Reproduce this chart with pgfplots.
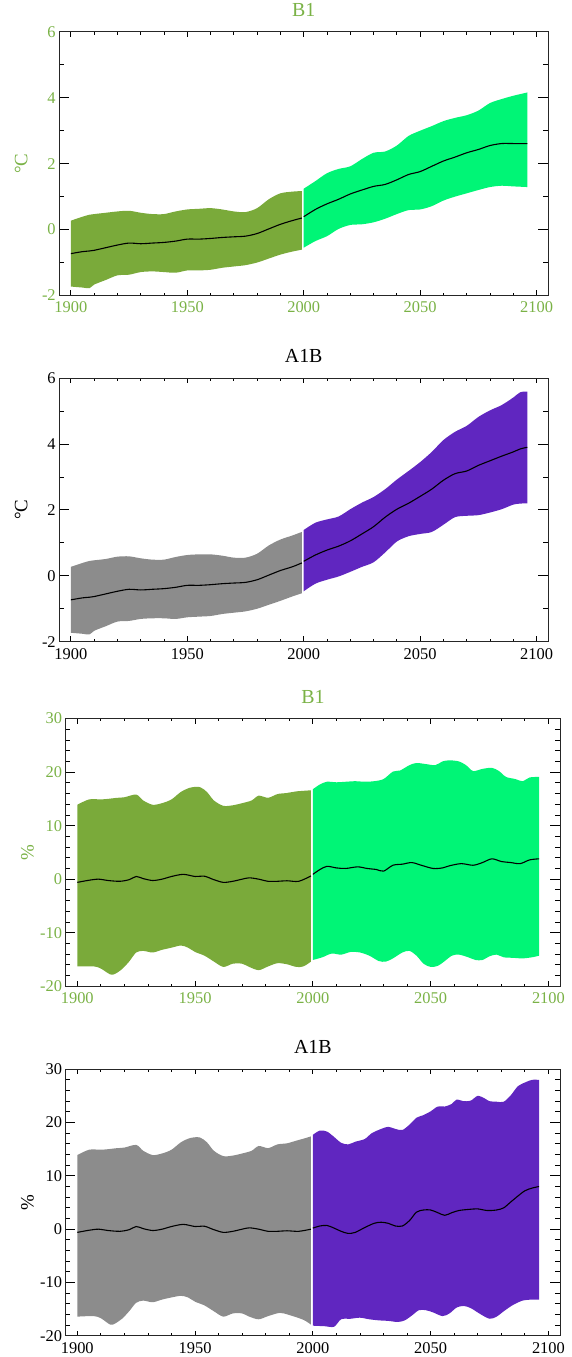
\documentclass[border=0pt]{standalone}
\usepackage{fontspec}
\setmainfont{Liberation Serif}
\usepackage{pgfplots}
\pgfplotsset{compat=1.18}
\usepackage{pgfplotstable}
\usepgfplotslibrary{fillbetween}

\definecolor{histgreen}{RGB}{122,170,58}
\definecolor{labgreen}{RGB}{122,178,70}
\definecolor{futgreen}{RGB}{0,245,118}
\definecolor{futpurple}{RGB}{96,38,192}
\definecolor{histgrey}{RGB}{140,140,140}

% ================= temperature (deg C) =================
% columns: year, lower bound, ensemble mean, upper bound
\pgfplotstableread{
year lo mid hi
1900 -1.73 -0.73 0.27
1905 -1.76 -0.67 0.39
1908 -1.78 -0.65 0.45
1910 -1.67 -0.63 0.47
1915 -1.53 -0.55 0.51
1920 -1.39 -0.47 0.55
1925 -1.37 -0.41 0.57
1930 -1.29 -0.43 0.51
1935 -1.27 -0.41 0.47
1940 -1.29 -0.39 0.47
1945 -1.31 -0.35 0.55
1950 -1.24 -0.29 0.61
1955 -1.24 -0.29 0.63
1960 -1.22 -0.27 0.65
1965 -1.16 -0.24 0.61
1970 -1.12 -0.22 0.55
1975 -1.08 -0.20 0.53
1980 -1.00 -0.12 0.65
1985 -0.88 0.02 0.92
1990 -0.76 0.16 1.10
1995 -0.67 0.27 1.15
1999.2 -0.61 0.35 1.17
}\tHistB

\pgfplotstableread{
year lo mid hi
1900 -1.73 -0.73 0.27
1905 -1.76 -0.67 0.39
1908 -1.78 -0.65 0.45
1910 -1.67 -0.63 0.47
1915 -1.53 -0.55 0.51
1920 -1.39 -0.47 0.58
1925 -1.37 -0.41 0.59
1930 -1.31 -0.43 0.53
1935 -1.29 -0.41 0.49
1940 -1.29 -0.39 0.49
1945 -1.31 -0.35 0.57
1950 -1.26 -0.29 0.63
1955 -1.24 -0.29 0.65
1960 -1.22 -0.27 0.65
1965 -1.16 -0.24 0.61
1970 -1.12 -0.22 0.55
1975 -1.08 -0.20 0.55
1980 -1.00 -0.12 0.67
1985 -0.88 0.02 0.92
1990 -0.76 0.16 1.10
1995 -0.63 0.27 1.22
1999.2 -0.53 0.39 1.33
}\tHistA

\pgfplotstableread{
year lo mid hi
2000 -0.55 0.39 1.24
2005 -0.35 0.61 1.47
2010 -0.20 0.78 1.71
2015 0.02 0.92 1.84
2020 0.14 1.08 1.92
2025 0.16 1.20 2.14
2030 0.22 1.31 2.33
2035 0.33 1.37 2.37
2040 0.47 1.51 2.55
2045 0.59 1.67 2.84
2050 0.61 1.76 3.00
2055 0.71 1.92 3.14
2060 0.88 2.08 3.29
2065 1.00 2.20 3.39
2070 1.10 2.33 3.47
2075 1.20 2.43 3.61
2080 1.29 2.55 3.84
2085 1.33 2.61 3.96
2090 1.31 2.61 4.06
2096 1.29 2.61 4.16
}\tBone

\pgfplotstableread{
year lo mid hi
2000 -0.47 0.44 1.39
2005 -0.24 0.63 1.61
2010 -0.12 0.78 1.71
2015 -0.02 0.90 1.80
2020 0.12 1.06 2.02
2025 0.27 1.27 2.22
2030 0.41 1.49 2.39
2035 0.71 1.78 2.63
2040 1.04 2.02 2.92
2045 1.20 2.20 3.18
2050 1.27 2.41 3.45
2055 1.33 2.63 3.76
2060 1.55 2.90 4.12
2065 1.78 3.10 4.37
2070 1.82 3.18 4.55
2075 1.84 3.35 4.82
2080 1.92 3.49 5.02
2085 2.02 3.63 5.18
2090 2.16 3.76 5.41
2093 2.19 3.85 5.57
2096 2.20 3.90 5.59
}\tAoneB

% ================= precipitation (%) =================
% upper bound, lower bound and ensemble mean, one table each
\pgfplotstableread{
x y
1900 13.9
1905 14.9
1910 14.9
1913 15.0
1917 15.2
1920 15.3
1925 15.8
1928 14.7
1932 13.9
1936 14.2
1940 14.9
1944 16.3
1948 17.1
1952 17.2
1955 16.3
1958 14.7
1962 13.7
1966 13.8
1970 14.2
1974 14.7
1977 15.6
1981 15.2
1985 15.9
1989 16.1
1993 16.4
1999.2 16.6
}\pHiHistB
\pgfplotstableread{
x y
1900 -16.3
1907 -16.3
1910 -16.7
1914 -17.8
1916 -17.7
1919 -16.8
1922 -15.4
1925 -13.7
1928 -13.4
1932 -13.7
1936 -13.2
1940 -12.8
1944 -12.4
1947 -12.8
1950 -13.6
1954 -14.3
1958 -15.4
1962 -16.4
1966 -15.8
1970 -15.8
1973 -16.4
1977 -17.0
1981 -16.3
1985 -15.7
1989 -15.9
1993 -16.4
1996 -16.3
1999.2 -15.4
}\pLoHistB
\pgfplotstableread{
x y
1900 -0.6
1905 -0.2
1909 0
1913 -0.25
1918 -0.4
1922 -0.1
1925 0.5
1928 0.1
1932 -0.25
1936 0
1940 0.5
1945 0.9
1950 0.5
1954 0.55
1958 -0.1
1962 -0.6
1966 -0.4
1970 0
1973 0.25
1977 0
1981 -0.4
1985 -0.4
1989 -0.3
1994 -0.4
1999.2 0.6
}\pMeanHistB

\pgfplotstableread{
x y
1900 13.9
1905 14.9
1910 14.9
1913 15.0
1917 15.2
1920 15.3
1925 15.8
1928 14.7
1932 13.9
1936 14.2
1940 14.9
1944 16.3
1948 17.1
1952 17.2
1955 16.3
1958 14.7
1962 13.7
1966 13.8
1970 14.2
1974 14.7
1977 15.6
1981 15.2
1985 15.9
1989 16.1
1993 16.6
1997 17.1
1999.2 17.4
}\pHiHistA
\pgfplotstableread{
x y
1900 -16.4
1907 -16.3
1910 -16.7
1914 -17.9
1916 -17.7
1919 -16.8
1922 -15.4
1925 -13.8
1928 -13.4
1932 -13.7
1936 -13.2
1940 -12.8
1944 -12.5
1947 -12.8
1950 -13.6
1954 -14.3
1958 -15.4
1962 -16.4
1966 -15.8
1970 -15.8
1973 -16.4
1977 -16.9
1981 -16.3
1986 -15.7
1990 -16.1
1996 -17.0
1999.2 -17.9
}\pLoHistA
\pgfplotstableread{
x y
1900 -0.6
1905 -0.2
1909 0
1913 -0.25
1918 -0.4
1922 -0.1
1925 0.5
1928 0.1
1932 -0.25
1936 0
1940 0.5
1945 0.9
1950 0.5
1954 0.55
1958 -0.1
1962 -0.6
1966 -0.4
1970 0
1973 0.25
1977 0
1981 -0.4
1985 -0.4
1989 -0.3
1994 -0.4
1999.2 0.0
}\pMeanHistA

\pgfplotstableread{
x y
2000 16.8
2003 17.7
2006 18.2
2010 18.1
2014 18.2
2018 18.3
2022 18.2
2026 18.3
2030 18.7
2034 20.1
2037 20.3
2041 21.3
2044 21.7
2048 21.5
2052 21.3
2055 22.0
2058 22.2
2062 22.0
2065 21.3
2068 20.2
2072 20.6
2076 20.8
2079 20.2
2082 19.1
2086 18.7
2089 18.3
2092 19.0
2096 19.1
}\pHiBone
\pgfplotstableread{
x y
2000 -15.1
2004 -14.6
2008 -13.9
2012 -14.1
2016 -13.6
2020 -13.7
2024 -14.3
2028 -15.3
2031 -15.4
2034 -14.8
2038 -13.7
2041 -13.4
2044 -14.3
2047 -15.8
2050 -16.4
2053 -16.2
2056 -15.3
2059 -14.3
2062 -14.1
2066 -14.6
2069 -15.1
2072 -15.1
2075 -14.4
2078 -14.1
2081 -14.6
2085 -14.7
2089 -14.8
2093 -14.6
2096 -14.3
}\pLoBone
\pgfplotstableread{
x y
2000 0.9
2003 1.8
2006 2.4
2010 2.1
2014 2.0
2019 2.3
2023 2.0
2027 1.8
2030 1.5
2034 2.6
2038 2.8
2042 3.1
2046 2.6
2051 2.0
2055 2.1
2058 2.5
2063 2.9
2068 2.6
2072 3.1
2076 3.8
2080 3.3
2084 3.1
2088 2.9
2092 3.6
2096 3.8
}\pMeanBone

\pgfplotstableread{
x y
2000 17.7
2003 18.5
2006 18.3
2009 17.3
2012 16.2
2015 15.9
2018 16.4
2022 16.9
2025 18.0
2029 18.8
2032 19.2
2035 18.8
2038 18.6
2041 19.6
2044 20.9
2047 21.4
2050 22.1
2053 23.0
2056 23.0
2059 23.5
2061 24.3
2064 24.0
2067 24.1
2070 25.0
2073 24.5
2075 24.0
2078 23.9
2081 23.9
2084 25.1
2087 26.8
2090 27.5
2093 28.0
2096 28.0
}\pHiAoneB
\pgfplotstableread{
x y
2000 -18.1
2005 -18.2
2009 -18.3
2012 -16.9
2016 -16.8
2020 -16.6
2024 -16.9
2028 -17.1
2032 -17.2
2036 -17.4
2039 -17.1
2042 -16.2
2045 -15.2
2048 -15.2
2051 -15.6
2055 -16.3
2058 -15.8
2061 -14.7
2064 -14.4
2067 -14.8
2071 -15.9
2075 -16.8
2078 -16.4
2081 -15.4
2085 -14.2
2089 -13.4
2093 -13.2
2096 -13.2
}\pLoAoneB
\pgfplotstableread{
x y
2000 0.2
2003 0.6
2006 0.7
2009 0.2
2012 -0.4
2015 -0.8
2018 -0.6
2022 0.3
2026 1.1
2029 1.3
2032 1.1
2035 0.6
2038 0.6
2041 1.6
2044 3.2
2047 3.6
2050 3.6
2053 3.1
2056 2.6
2059 3.1
2062 3.5
2066 3.7
2070 3.8
2074 3.5
2078 3.6
2081 4.0
2084 5.1
2087 6.2
2090 7.2
2093 7.7
2096 8.0
}\pMeanAoneB

\pgfplotsset{
  panel/.style={
    scale only axis, anchor=south west,
    xmin=1895, xmax=2105,
    xtick={1900,1950,...,2100}, minor x tick num=4,
    tick pos=both, tick align=inside,
    axis line style={black!85, line width=1bp},
    xtick style={black, line width=0.8bp, /pgfplots/major tick length=5.3bp, /pgfplots/minor tick length=2.7bp},
    ytick style={black, line width=0.8bp, /pgfplots/major tick length=9.8bp, /pgfplots/minor tick length=4.9bp},
    /pgf/number format/assume math mode=true,
    xticklabel style={/pgf/number format/set thousands separator={}, yshift=-3bp},
    tick label style={font=\fontsize{16.5}{16.5}\selectfont},
    title style={font=\fontsize{20}{20}\selectfont, at={(axis description cs:0.5,1)}, anchor=center, yshift=16bp},
    every axis y label/.style={at={(axis description cs:0,0.5)}, xshift=-38bp, rotate=90, anchor=center, font=\fontsize{19}{19}\selectfont},
  },
  temp/.style={panel, width=489.7bp, height=264bp, ymin=-2, ymax=6, ytick={-2,0,...,6}, minor y tick num=1, ylabel={°C}},
  prec/.style={panel, width=495.4bp, height=268bp, ymin=-20, ymax=30, ytick={-20,-10,...,30}, minor y tick num=4, ylabel={\%}},
  greentext/.style={tick label style={text=labgreen}, title style={text=labgreen}, ylabel style={text=labgreen}},
  edge/.style={draw=none, smooth, forget plot},
  meanline/.style={black, line width=1.1bp, smooth},
}

\begin{document}
\begin{tikzpicture}
\path (0,0) rectangle (572bp,1357bp);

% B1 temperature
\begin{axis}[temp, greentext, at={(59.3bp,1063bp)}, title={B1}]
  \addplot[edge, name path=ta] table[x=year, y=hi] {\tHistB};
  \addplot[edge, name path=tb] table[x=year, y=lo] {\tHistB};
  \addplot[fill=histgreen, draw=none] fill between[of=ta and tb];
  \addplot[edge, name path=tc] table[x=year, y=hi] {\tBone};
  \addplot[edge, name path=td] table[x=year, y=lo] {\tBone};
  \addplot[fill=futgreen, draw=none] fill between[of=tc and td];
  \addplot[meanline] table[x=year, y=mid] {\tHistB};
  \addplot[meanline] table[x=year, y=mid] {\tBone};
\end{axis}

% A1B temperature
\begin{axis}[temp, at={(59.3bp,716.3bp)}, title={A1B}]
  \addplot[edge, name path=te] table[x=year, y=hi] {\tHistA};
  \addplot[edge, name path=tf] table[x=year, y=lo] {\tHistA};
  \addplot[fill=histgrey, draw=none] fill between[of=te and tf];
  \addplot[edge, name path=tg] table[x=year, y=hi] {\tAoneB};
  \addplot[edge, name path=th] table[x=year, y=lo] {\tAoneB};
  \addplot[fill=futpurple, draw=none] fill between[of=tg and th];
  \addplot[meanline] table[x=year, y=mid] {\tHistA};
  \addplot[meanline] table[x=year, y=mid] {\tAoneB};
\end{axis}

% B1 precipitation
\begin{axis}[prec, greentext, at={(65.6bp,371.3bp)}, title={B1}]
  \addplot[edge, name path=pa] table {\pHiHistB};
  \addplot[edge, name path=pb] table {\pLoHistB};
  \addplot[fill=histgreen, draw=none] fill between[of=pa and pb];
  \addplot[edge, name path=pc] table {\pHiBone};
  \addplot[edge, name path=pd] table {\pLoBone};
  \addplot[fill=futgreen, draw=none] fill between[of=pc and pd];
  \addplot[meanline] table {\pMeanHistB};
  \addplot[meanline] table {\pMeanBone};
\end{axis}

% A1B precipitation
\begin{axis}[prec, at={(65.6bp,21.2bp)}, height=267bp, title={A1B}]
  \addplot[edge, name path=pe] table {\pHiHistA};
  \addplot[edge, name path=pf] table {\pLoHistA};
  \addplot[fill=histgrey, draw=none] fill between[of=pe and pf];
  \addplot[edge, name path=pg] table {\pHiAoneB};
  \addplot[edge, name path=ph] table {\pLoAoneB};
  \addplot[fill=futpurple, draw=none] fill between[of=pg and ph];
  \addplot[meanline] table {\pMeanHistA};
  \addplot[meanline] table {\pMeanAoneB};
\end{axis}
\end{tikzpicture}
\end{document}
